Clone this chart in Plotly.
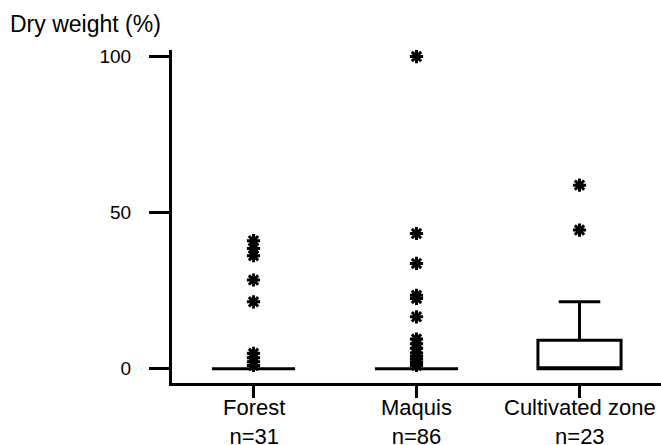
import plotly.graph_objects as go

# ---- data ----
categories = ["Forest", "Maquis", "Cultivated zone"]
n_labels = ["n=31", "n=86", "n=23"]
q1 = [0, 0, 0]
median = [0, 0, 0]
q3 = [0, 0, 9.1]
lower_fence = [0, 0, 0]
upper_fence = [0, 0, 21.4]

forest_outliers = [41.0, 38.5, 36.2, 28.4, 21.4, 4.9, 3.5, 2.2, 1.0]
maquis_outliers = [100, 43.3, 33.7, 23.5, 22.5, 16.6, 9.5, 8.0, 6.5, 5.0, 4.0, 3.0, 2.0, 1.0]
cultivated_outliers = [58.8, 44.4]

y_ticks = [0, 50, 100]
y_title = "Dry weight (%)"

FONT = "Liberation Sans, Arial, sans-serif"

fig = go.Figure()

fig.add_trace(go.Box(
    x=categories,
    q1=q1, median=median, q3=q3,
    lowerfence=lower_fence, upperfence=upper_fence,
    width=0.51,
    fillcolor="white",
    line=dict(color="black", width=3),
    boxpoints=False,
    showlegend=False,
    hoverinfo="skip",
))

out_x = ([categories[0]] * len(forest_outliers)
         + [categories[1]] * len(maquis_outliers)
         + [categories[2]] * len(cultivated_outliers))
out_y = forest_outliers + maquis_outliers + cultivated_outliers

fig.add_trace(go.Scatter(
    x=out_x, y=out_y, mode="markers",
    marker=dict(symbol="asterisk", size=11, color="black",
                line=dict(color="black", width=3)),
    showlegend=False, hoverinfo="skip",
))

# category labels (two lines) as annotations under each tick
cat_annotations = [
    dict(text=f"{c}<br>{n}", x=c, xref="x", yref="paper",
         y=(383 - 393) / 333, xanchor="center", yanchor="top",
         showarrow=False, align="center",
         font=dict(size=22, family=FONT, color="black"))
    for c, n in zip(categories, n_labels)
]

fig.update_layout(
    width=661, height=445,
    margin=dict(l=172, r=0, t=50, b=62, autoexpand=False),
    paper_bgcolor="white", plot_bgcolor="white",
    font=dict(family=FONT, color="black"),
    hovermode=False,
    xaxis=dict(
        type="category", categoryorder="array", categoryarray=categories,
        range=[-0.5, 2.5], automargin=False,
        tickmode="array", tickvals=categories, showticklabels=False,
        ticks="outside", ticklen=12, tickwidth=3, tickcolor="black",
        showline=True, linewidth=3, linecolor="black",
        showgrid=False, zeroline=False,
    ),
    yaxis=dict(
        range=[-4.6, 102.1], automargin=False,
        tickmode="array", tickvals=y_ticks, ticktext=[str(v) for v in y_ticks],
        ticks="outside", ticklen=20, tickwidth=3, tickcolor="black",
        ticklabelstandoff=14,
        showline=True, linewidth=3, linecolor="black",
        showgrid=False, zeroline=False,
        tickfont=dict(size=19, family=FONT, color="black"),
    ),
    annotations=[dict(
        text=y_title, xref="paper", yref="paper",
        x=(8 - 172) / 489, y=1 + (50 - 23.5) / 333,
        xanchor="left", yanchor="middle", showarrow=False,
        font=dict(size=23, family=FONT, color="black"),
    )] + cat_annotations,
)

fig.write_html(
    "out.html",
    config={"displayModeBar": False},
    post_script="document.body.style.margin='0';document.body.style.overflow='hidden';",
)
